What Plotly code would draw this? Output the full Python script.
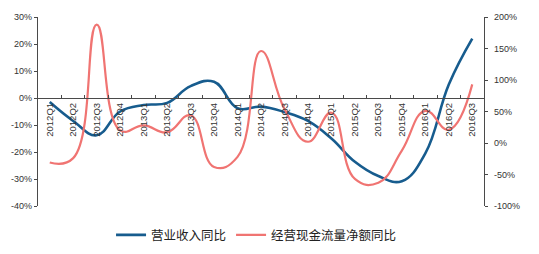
import plotly.graph_objects as go

quarters = ["2012Q1", "2012Q2", "2012Q3", "2012Q4", "2013Q1", "2013Q2", "2013Q3", "2013Q4",
            "2014Q1", "2014Q2", "2014Q3", "2014Q4", "2015Q1", "2015Q2", "2015Q3", "2015Q4",
            "2016Q1", "2016Q2", "2016Q3"]
revenue_yoy = [-1.5, -8.5, -13.8, -5.0, -2.6, -1.8, 4.4, 6.0,
               -3.8, -3.2, -5.2, -8.5, -15.0, -23.6, -28.9, -30.8,
               -20.5, 5.0, 22.0]
cashflow_yoy = [-31, -24, 188, 20, 28, 17, 44, -38,
                -22, 146, 54, 2, 48, -57, -63, -12,
                51, 21, 93]

left_ticks = [30, 20, 10, 0, -10, -20, -30, -40]
right_ticks = [200, 150, 100, 50, 0, -50, -100]

blue = "#175C8E"
red = "#F07472"
axis_col = "#4a4a4a"
txt_col = "#333333"

fig = go.Figure()
fig.add_trace(go.Scatter(x=quarters, y=revenue_yoy, name="营业收入同比", mode="lines",
                         line=dict(color=blue, width=2.6, shape="spline", smoothing=1.2),
                         yaxis="y"))
fig.add_trace(go.Scatter(x=quarters, y=cashflow_yoy, name="经营现金流量净额同比", mode="lines",
                         line=dict(color=red, width=2.2, shape="spline", smoothing=1.3),
                         yaxis="y2"))

lo, hi = -40, 30
fig.update_layout(
    width=539, height=254,
    margin=dict(l=38, r=55, t=17, b=48, autoexpand=False),
    paper_bgcolor="white", plot_bgcolor="white",
    font=dict(family="Liberation Sans, Arial", size=9, color=txt_col),
    showlegend=True,
    legend=dict(orientation="h", x=0.49, xanchor="center", y=-0.155, yanchor="middle",
                font=dict(family="Noto Sans CJK SC", size=12.5, color="#222222"),
                itemwidth=30, tracegroupgap=0),
    xaxis=dict(type="category", anchor="free", position=(0 - lo) / (hi - lo),
               range=[-0.5, len(quarters) - 0.5], automargin=False,
               showline=True, linecolor=axis_col, linewidth=1.3,
               ticks="inside", ticklen=3, tickcolor=axis_col, tickson="boundaries",
               tickangle=-90, showgrid=False, zeroline=False,
               tickfont=dict(size=9.5, color=txt_col)),
    yaxis=dict(range=[lo, hi], tickvals=left_ticks, ticktext=[f"{v}%" for v in left_ticks],
               automargin=False,
               showline=True, linecolor=axis_col, linewidth=1.3, ticks="outside", ticklen=3,
               tickcolor=axis_col, showgrid=False, zeroline=False,
               tickfont=dict(size=9, color=txt_col)),
    yaxis2=dict(range=[-100, 200], overlaying="y", side="right", anchor="x",
                automargin=False, ticklabelstandoff=4,
                tickvals=right_ticks, ticktext=[f"{v}%" for v in right_ticks],
                showline=True, linecolor=axis_col, linewidth=1.3, ticks="outside", ticklen=3,
                tickcolor=axis_col, showgrid=False, zeroline=False,
                tickfont=dict(size=9, color=txt_col)),
)

fig.write_html("out.html")
